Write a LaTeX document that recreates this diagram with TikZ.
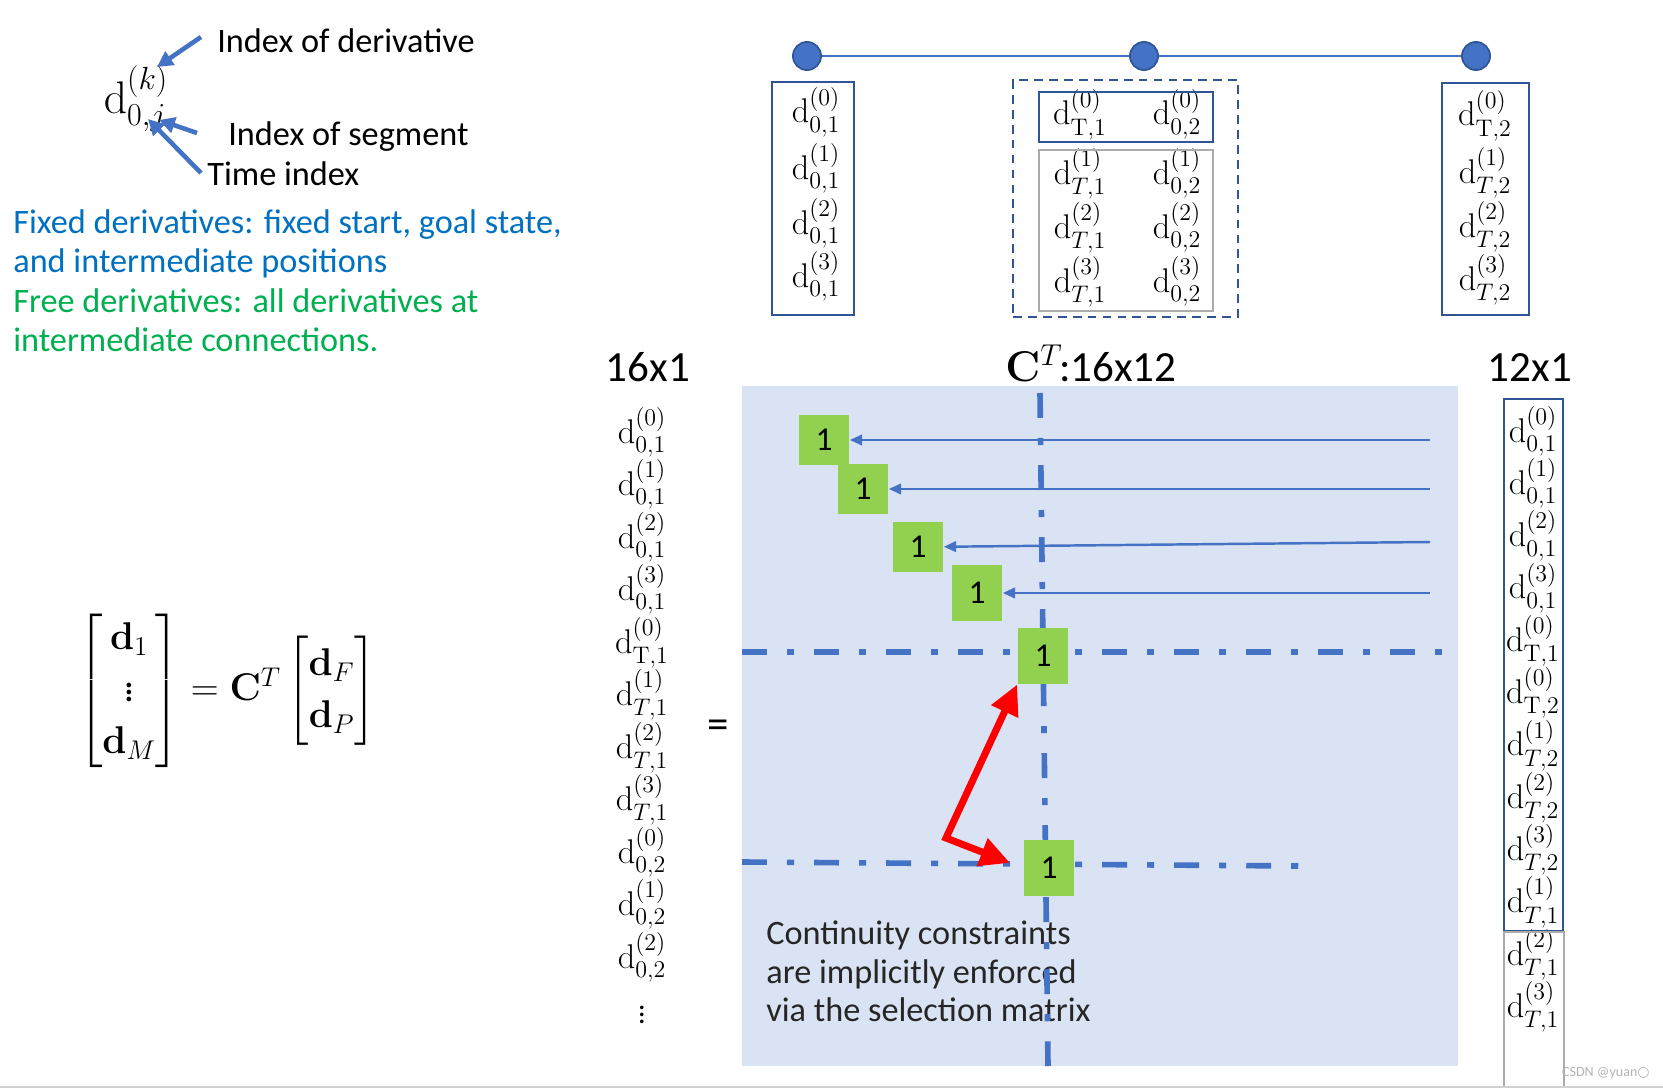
\documentclass[tikz,border=0pt]{standalone}
\usepackage{fix-cm}
\usepackage{amsmath}
\usepackage[no-math]{fontspec}
\setmainfont{Carlito}
\newfontfamily\symfont{DejaVu Sans}
\usepackage{tikz}
\usetikzlibrary{positioning}
\usetikzlibrary{fit}
\usetikzlibrary{arrows.meta}
\definecolor{lineblue}{HTML}{4472C4}
\definecolor{boxblue}{HTML}{2F5597}
\definecolor{matbg}{HTML}{DAE3F3}
\definecolor{onegreen}{HTML}{92D050}
\definecolor{fixblue}{HTML}{0070C0}
\definecolor{freegreen}{HTML}{00B050}
\definecolor{txtgray}{HTML}{262626}
\tikzstyle{E} = [inner sep=0pt,anchor=base,font=\fontsize{19.5}{22}\selectfont]
\tikzstyle{T} = [inner sep=0pt,anchor=base west,font=\fontsize{19.5}{23}\selectfont]
\tikzstyle{H} = [inner sep=0pt,anchor=base,font=\fontsize{24.5}{29}\selectfont]
\tikzstyle{B} = [draw=boxblue,line width=1.4pt,inner sep=0pt]
\tikzstyle{G} = [B,draw=gray!65]
\tikzstyle{W} = [circle,fill=lineblue,draw=boxblue,line width=1pt,minimum size=16pt,inner sep=0pt]
\tikzstyle{One} = [fill=onegreen,minimum width=29pt,minimum height=29pt,inner sep=0pt,font=\fontsize{19}{22}\selectfont]
\tikzstyle{P} = [-{Triangle[length=9pt,width=9pt]},lineblue,line width=2.6pt]
\tikzstyle{R} = [{Triangle[length=17pt,width=16pt]}-{Triangle[length=17pt,width=16pt]},red,line width=4pt]
\tikzstyle{ddot} = [lineblue,line width=3.2pt,dash pattern=on 14.2pt off 11.4pt on 4pt off 11.4pt]
\tikzset{>={Triangle[length=7pt,width=6pt]}}

\begin{document}
\begin{tikzpicture}[x=0.02cm,y=-0.02cm]
  \useasboundingbox (0,0) rectangle (1663,1088);

  % legend top left
  \node [inner sep=0pt,anchor=base,font=\fontsize{26}{30}\selectfont] (dk) at (136,113) {$\mathrm{d}^{(k)}_{0,j}$};
  \node [T] (lk) at (217,53) {Index of derivative};
  \node [T] (lj) at (228,146) {Index of segment};
  \node [T] (lt) at (207,185) {Time index};
  \coordinate (ak) at (201,37);
  \coordinate (aj) at (197,133);
  \coordinate (at) at (201,173);
  \coordinate (hk) at (157,67);
  \coordinate (hj) at (159,120);
  \coordinate (ht) at (148,119);
  \draw [P] (ak) -- (hk);
  \draw [P] (aj) -- (hj);
  \draw [P] (at) -- (ht);

  \node [T,text=fixblue] (f1) at (13,233) {Fixed derivatives: fixed start, goal state,};
  \node [T,text=fixblue] (f2) at (13,272) {and intermediate positions};
  \node [T,text=freegreen] (g1) at (13,312) {Free derivatives: all derivatives at};
  \node [T,text=freegreen] (g2) at (13,351) {intermediate connections.};

  \node [inner sep=0pt,font=\fontsize{22}{26.4}\selectfont] (eq) at (227,691)
    {$\renewcommand{\arraystretch}{1.12}\begin{bmatrix}\mathbf{d}_1\\ \vdots\\ \mathbf{d}_M\end{bmatrix}=\mathbf{C}^T\begin{bmatrix}\mathbf{d}_F\\ \mathbf{d}_P\end{bmatrix}$};

  % segments
  \node [W] (p1) at (807,56) {};
  \node [W] (p2) at (1144,56) {};
  \node [W] (p3) at (1476,56) {};
  \draw [lineblue,line width=1.1pt] (p1) -- (p2) -- (p3);

  \node [E] (s1) at (816,123) {$\mathrm{d}^{(0)}_{0,1}$};
  \node [E] (s2) at (816,179) {$\mathrm{d}^{(1)}_{0,1}$};
  \node [E] (s3) at (816,234) {$\mathrm{d}^{(2)}_{0,1}$};
  \node [E] (s4) at (816,287) {$\mathrm{d}^{(3)}_{0,1}$};
  \node [B,fit={(772,82) (854,315)}] (b1) {};

  \node [E] (m1) at (1080,125) {$\mathrm{d}^{(0)}_{\mathrm{T},1}$};
  \node [E] (m2) at (1177,125) {$\mathrm{d}^{(0)}_{0,2}$};
  \node [E] (m3) at (1080,184) {$\mathrm{d}^{(1)}_{T,1}$};
  \node [E] (m4) at (1177,184) {$\mathrm{d}^{(1)}_{0,2}$};
  \node [E] (m5) at (1080,238) {$\mathrm{d}^{(2)}_{T,1}$};
  \node [E] (m6) at (1177,238) {$\mathrm{d}^{(2)}_{0,2}$};
  \node [E] (m7) at (1080,292) {$\mathrm{d}^{(3)}_{T,1}$};
  \node [E] (m8) at (1177,292) {$\mathrm{d}^{(3)}_{0,2}$};
  \node [B,fit={(1039,92) (1213,142)}] (b2) {};
  \node [G,fit={(1039,150) (1213,311)}] (b3) {};
  \node [B,dash pattern=on 5pt off 3.5pt,fit={(1013,80) (1238,317)}] (b4) {};

  \node [E] (e1) at (1485,126) {$\mathrm{d}^{(0)}_{\mathrm{T},2}$};
  \node [E] (e2) at (1485,183) {$\mathrm{d}^{(1)}_{T,2}$};
  \node [E] (e3) at (1485,237) {$\mathrm{d}^{(2)}_{T,2}$};
  \node [E] (e4) at (1485,290) {$\mathrm{d}^{(3)}_{T,2}$};
  \node [B,fit={(1442,83) (1529,315)}] (b5) {};

  % sizes
  \node [H] (h1) at (648,381) {16x1};
  \node [H,anchor=base west] (h2) at (1005,381) {$\mathbf{C}^T$\hspace{-2pt}:16x12};
  \node [H] (h3) at (1530,381) {12x1};

  % selection matrix
  \node [fill=matbg,inner sep=0pt,fit={(742,386) (1458,1066)}] (mat) {};
  \node [T,text=txtgray] (c1) at (766,944) {Continuity constraints};
  \node [T,text=txtgray] (c2) at (766,983) {are implicitly enforced};
  \node [T,text=txtgray] (c3) at (766,1021) {via the selection matrix};

  \draw [ddot] (1040,393) -- (1048,1066);
  \draw [ddot] (742,652) -- (1444,652);
  \draw [ddot] (742,862) -- (1300,866);

  \node [One] (o1) at (824,440) {1};
  \node [One] (o2) at (863,489) {1};
  \node [One] (o3) at (918,547) {1};
  \node [One,minimum height=32pt] (o4) at (977,593) {1};
  \node [One,minimum height=32pt] (o5) at (1043,656) {1};
  \node [One,minimum height=32pt] (o6) at (1049,868) {1};

  \coordinate (q1) at (1430,440);
  \coordinate (q2) at (1430,489);
  \coordinate (q3) at (1430,542);
  \coordinate (q4) at (1430,593);
  \draw [->,lineblue,line width=1.4pt] (q1) -- (o1);
  \draw [->,lineblue,line width=1.4pt] (q2) -- (o2);
  \draw [->,lineblue,line width=1.4pt] (q3) -- (o3);
  \draw [->,lineblue,line width=1.4pt] (q4) -- (o4);

  \coordinate (rc) at (946,838);
  \draw [R,shorten >=8pt] (o5.south west) -- (rc) -- (o6.west);

  % left vector
  \node [E] (l1) at (642,443) {$\mathrm{d}^{(0)}_{0,1}$};
  \node [E] (l2) at (642,495.5) {$\mathrm{d}^{(1)}_{0,1}$};
  \node [E] (l3) at (642,548) {$\mathrm{d}^{(2)}_{0,1}$};
  \node [E] (l4) at (642,600.5) {$\mathrm{d}^{(3)}_{0,1}$};
  \node [E] (l5) at (642,653) {$\mathrm{d}^{(0)}_{\mathrm{T},1}$};
  \node [E] (l6) at (642,705.5) {$\mathrm{d}^{(1)}_{T,1}$};
  \node [E] (l7) at (642,758) {$\mathrm{d}^{(2)}_{T,1}$};
  \node [E] (l8) at (642,810.5) {$\mathrm{d}^{(3)}_{T,1}$};
  \node [E] (l9) at (642,863) {$\mathrm{d}^{(0)}_{0,2}$};
  \node [E] (l10) at (642,915.5) {$\mathrm{d}^{(1)}_{0,2}$};
  \node [E] (l11) at (642,968) {$\mathrm{d}^{(2)}_{0,2}$};
  \node [inner sep=0pt,font=\fontsize{17}{20}\selectfont] (l12) at (642,1010) {$\vdots$};
  \node [H] (eqs) at (718,738) {=};

  % right vector
  \node [E] (r1) at (1533,442) {$\mathrm{d}^{(0)}_{0,1}$};
  \node [E] (r2) at (1533,494.3) {$\mathrm{d}^{(1)}_{0,1}$};
  \node [E] (r3) at (1533,546.6) {$\mathrm{d}^{(2)}_{0,1}$};
  \node [E] (r4) at (1533,598.9) {$\mathrm{d}^{(3)}_{0,1}$};
  \node [E] (r5) at (1533,651.2) {$\mathrm{d}^{(0)}_{\mathrm{T},1}$};
  \node [E] (r6) at (1533,703.5) {$\mathrm{d}^{(0)}_{\mathrm{T},2}$};
  \node [E] (r7) at (1533,755.8) {$\mathrm{d}^{(1)}_{T,2}$};
  \node [E] (r8) at (1533,808.1) {$\mathrm{d}^{(2)}_{T,2}$};
  \node [E] (r9) at (1533,860.4) {$\mathrm{d}^{(3)}_{T,2}$};
  \node [E] (r10) at (1533,912.7) {$\mathrm{d}^{(1)}_{T,1}$};
  \node [E] (r11) at (1533,965) {$\mathrm{d}^{(2)}_{T,1}$};
  \node [E] (r12) at (1533,1017.3) {$\mathrm{d}^{(3)}_{T,1}$};
  \node [B,fit={(1504,399) (1563,931)}] (v1) {};
  \node [G,fit={(1504,932) (1564,1087)}] (v2) {};

  \draw [gray!35,line width=0.8pt] (0,1087) -- (1663,1087);
  \node [inner sep=0pt,anchor=base east,text=gray!60,font=\fontsize{8}{9}\selectfont] (wm) at (1650,1076) {CSDN @yuan{\symfont ○}};
\end{tikzpicture}
\end{document}
